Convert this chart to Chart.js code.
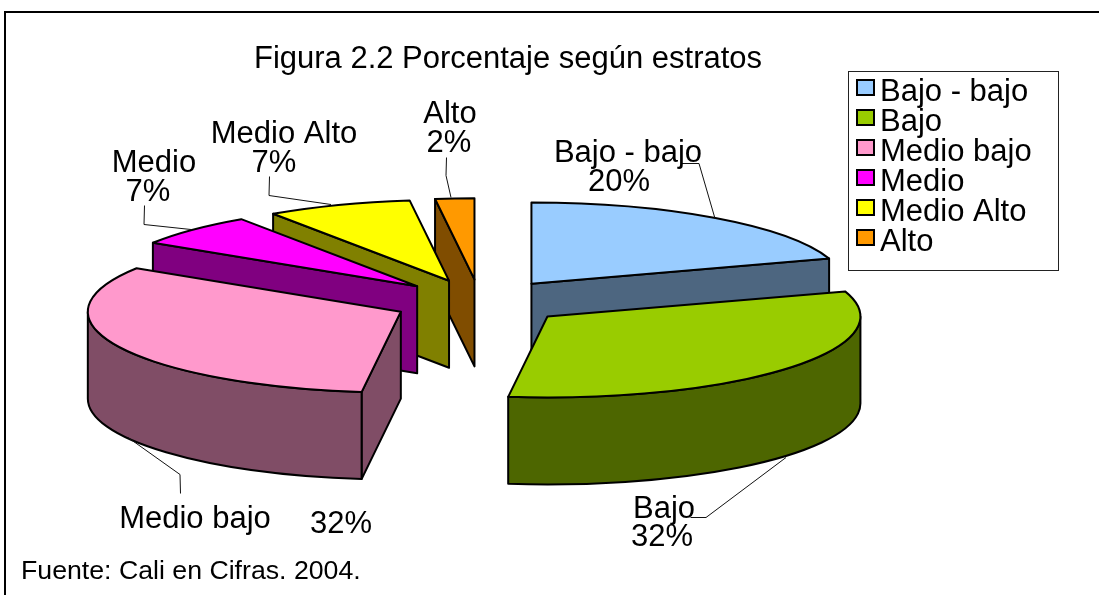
<!DOCTYPE html>
<html>
<head>
<meta charset="utf-8">
<style>html,body{margin:0;padding:0;background:#fff}canvas{display:block}</style>
<script src="https://cdn.jsdelivr.net/npm/chart.js@4"></script>
</head>
<body>
<canvas id="c" width="1099" height="595"></canvas>
<script>
const categories = ['Bajo - bajo', 'Bajo', 'Medio bajo', 'Medio', 'Medio Alto', 'Alto'];
const percentages = [20, 32, 32, 6.5, 7.49, 2.01];
const topColors = ['#99CCFF', '#99CC00', '#FF99CC', '#FF00FF', '#FFFF00', '#FF9900'];
const wallColors = ['#4D6680', '#4D6600', '#804D66', '#800080', '#808000', '#804D00'];
const chartTitle = 'Figura 2.2 Porcentaje según estratos';
const sourceNote = 'Fuente: Cali en Cifras. 2004.';

/* layout of the annotations, in page pixels */
const FONT = '"Liberation Sans", Arial, sans-serif';
const SIZE = 31;
const center = {x: 480, y: 302};
const pieRadius = 313, tilt = 0.259, depth = 87, explode = 87.5;
const legendBox = {x: 848, y: 71, w: 210, h: 199};
const labelSpots = [
  {name: [628, 162], pct: [619, 191], leader: [[681, 163], [699, 163], [715, 218]]},
  {name: [664, 518], pct: [662, 546], leader: [[690, 517], [706, 517], [786, 457]]},
  {name: [195, 528], pct: [341, 533], leader: [[180, 493], [180, 474], [128, 437]]},
  {name: [154, 172], pct: [148, 201], leader: [[144, 205], [144, 224], [191, 229]]},
  {name: [284, 143], pct: [274, 172], leader: [[269, 176], [269, 195], [331, 204]]},
  {name: [450, 123], pct: [449, 152], leader: [[446, 157], [446, 175], [451, 197]]}
];

const pie3d = {
  id: 'pie3d',
  afterLayout(chart) {
    const a = chart.chartArea;
    a.left = center.x - 480; a.right = center.x + 480;
    a.top = center.y - 302; a.bottom = center.y + 302;
    a.width = a.right - a.left; a.height = a.bottom - a.top;
    const t = chart.titleBlock;
    t.left = 254; t.right = 762; t.top = 41; t.bottom = 79; t.width = 508; t.height = 38;
    const l = chart.legend;
    l.left = 859.5; l.right = 1058; l.top = 78; l.bottom = 268;
    l.width = l.right - l.left; l.height = l.bottom - l.top;
  },
  beforeDraw(chart) {
    const c = chart.ctx;
    c.save();
    c.fillStyle = '#fff';
    c.fillRect(0, 0, chart.width, chart.height);
    c.strokeStyle = '#000';
    c.lineWidth = 2;
    c.beginPath();
    c.moveTo(5, 595); c.lineTo(5, 12); c.lineTo(1099, 12);
    c.stroke();
    c.lineWidth = 1;
    c.strokeStyle = '#222';
    c.fillStyle = '#fff';
    c.fillRect(legendBox.x, legendBox.y, legendBox.w, legendBox.h);
    c.strokeRect(legendBox.x + .5, legendBox.y + .5, legendBox.w, legendBox.h);
    c.restore();
  },
  beforeDatasetDraw(chart, args) {
    const c = chart.ctx;
    const arcs = chart.getDatasetMeta(args.index).data.map((el, i) => {
      const p = el.getProps(['x', 'y', 'startAngle', 'endAngle', 'outerRadius'], true);
      const mid = (p.startAngle + p.endAngle) / 2;
      const off = el.options.offset;
      return {i, s: p.startAngle, e: p.endAngle, r: p.outerRadius,
        x: p.x + Math.cos(mid) * off,
        y: p.y + Math.sin(mid) * off * tilt};
    });
    arcs.sort((a, b) => a.y - b.y);
    c.save();
    c.lineJoin = 'round';
    c.lineWidth = 2;
    c.strokeStyle = '#000';
    for (const a of arcs) {
      const pt = t => [a.x + a.r * Math.cos(t), a.y + a.r * tilt * Math.sin(t)];
      const wall = (p, q) => {
        c.beginPath();
        c.moveTo(p[0], p[1]); c.lineTo(q[0], q[1]);
        c.lineTo(q[0], q[1] + depth); c.lineTo(p[0], p[1] + depth);
        c.closePath(); c.fill(); c.stroke();
      };
      c.fillStyle = wallColors[a.i];
      if (Math.sin(a.s - Math.PI / 2) > 1e-6) wall([a.x, a.y], pt(a.s));
      if (Math.sin(a.e + Math.PI / 2) > 1e-6) wall([a.x, a.y], pt(a.e));
      const from = Math.max(a.s, 0), to = Math.min(a.e, Math.PI);
      if (to > from) {
        c.beginPath();
        c.ellipse(a.x, a.y, a.r, a.r * tilt, 0, from, to);
        c.ellipse(a.x, a.y + depth, a.r, a.r * tilt, 0, to, from, true);
        c.closePath(); c.fill(); c.stroke();
      }
      c.fillStyle = topColors[a.i];
      c.beginPath();
      c.moveTo(a.x, a.y);
      c.ellipse(a.x, a.y, a.r, a.r * tilt, 0, a.s, a.e);
      c.closePath(); c.fill(); c.stroke();
    }
    c.restore();
    return false;
  },
  afterDraw(chart) {
    const c = chart.ctx;
    c.save();
    /* legend swatches */
    c.strokeStyle = '#000';
    c.lineWidth = 2;
    categories.forEach((_, i) => {
      c.fillStyle = topColors[i];
      c.fillRect(857, 80 + i * 30, 17, 15);
      c.strokeRect(857, 80 + i * 30, 17, 15);
    });
    /* leader lines */
    c.lineWidth = 1;
    c.strokeStyle = '#111';
    labelSpots.forEach(s => {
      c.beginPath();
      s.leader.forEach((p, j) => j ? c.lineTo(p[0], p[1] + .5) : c.moveTo(p[0] + .5, p[1] + .5));
      c.stroke();
    });
    /* data labels */
    c.fillStyle = '#000';
    c.textBaseline = 'alphabetic';
    c.textAlign = 'center';
    c.font = SIZE + 'px ' + FONT;
    labelSpots.forEach((s, i) => {
      c.fillText(categories[i], s.name[0], s.name[1]);
      c.fillText(Math.round(percentages[i]) + '%', s.pct[0], s.pct[1]);
    });
    /* source note */
    c.textAlign = 'left';
    c.font = '26.7px ' + FONT;
    c.fillText(sourceNote, 21, 579);
    c.restore();
  }
};

new Chart(document.getElementById('c'), {
  type: 'pie',
  data: {
    labels: categories,
    datasets: [{data: percentages, backgroundColor: topColors, offset: explode, borderWidth: 0}]
  },
  options: {
    responsive: false,
    animation: false,
    radius: pieRadius,
    rotation: 0,
    plugins: {
      tooltip: {enabled: false},
      title: {
        display: true, text: chartTitle, color: '#000', align: 'center',
        padding: 0, font: {family: FONT, size: SIZE, weight: 'normal'}
      },
      legend: {
        display: true, position: 'right', align: 'start',
        labels: {
          boxWidth: 6, boxHeight: 6, padding: -1, color: '#000',
          font: {family: FONT, size: SIZE},
          generateLabels: () => categories.map((text, index) => ({
            text, index, fillStyle: 'transparent', strokeStyle: 'transparent', lineWidth: 0, hidden: false
          }))
        }
      }
    }
  },
  plugins: [pie3d]
});
</script>
</body>
</html>
